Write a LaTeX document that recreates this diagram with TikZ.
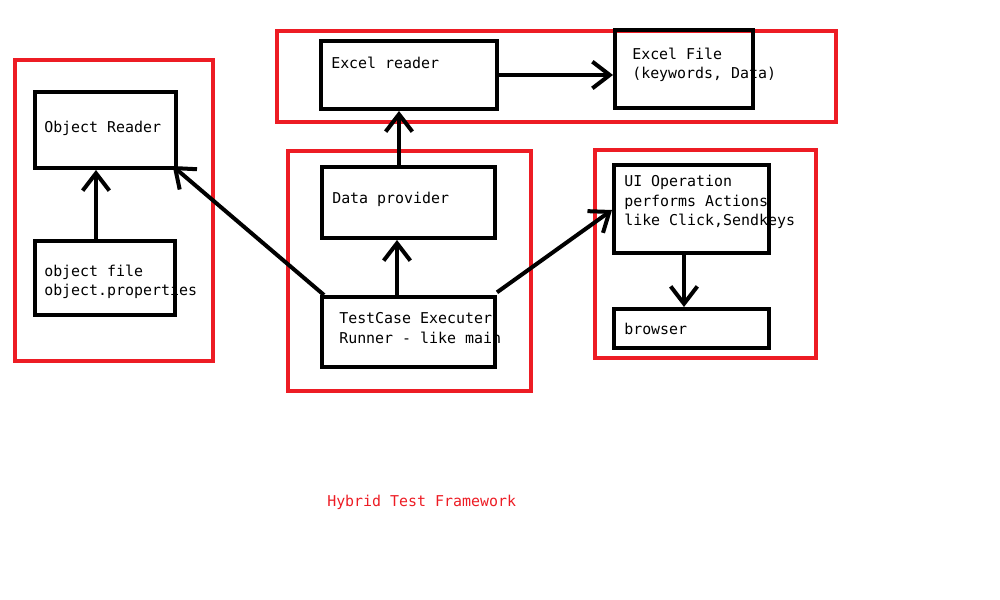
\documentclass[tikz,border=0pt]{standalone}
\usepackage{fontspec}
\setmonofont{DejaVu Sans Mono}
\usetikzlibrary{arrows.meta,fit}
\definecolor{paintred}{RGB}{237,28,36}

\begin{document}
\begin{tikzpicture}[x=0.75pt,y=0.75pt,yscale=-1,xscale=1,
  group/.style={draw=paintred,line width=3pt,inner sep=0pt},
  box/.style={draw=black,line width=3pt,inner sep=0pt},
  txt/.style={anchor=west,inner sep=0.75pt,align=left,font=\ttfamily\fontsize{11.2}{14.6}\selectfont},
  arr/.style={line width=3pt,-{Straight Barb[length=13pt,width=20pt,line width=3pt]}}]
\useasboundingbox (0,0) rectangle (1000,600);

%Shape: Rectangle [groups]
\node[group,fit={(15,60) (213,361)}] (objgroup) {};
\node[group,fit={(277,31) (836,122)}] (excelgroup) {};
\node[group,fit={(288,151) (531,391)}] (rungroup) {};
\node[group,fit={(595,150) (816,358)}] (uigroup) {};

%Shape: Rectangle [boxes]
\node[box,fit={(35,92) (176,168)}] (objreader) {};
\node[box,fit={(35,241) (175,315)}] (objfile) {};
\node[box,fit={(321,41) (497,109)}] (excelreader) {};
\node[box,fit={(615,30) (753,108)}] (excelfile) {};
\node[box,fit={(322,167) (495,238)}] (dataprov) {};
\node[box,fit={(322,297) (495,367)}] (runner) {};
\node[box,fit={(614,165) (769,253)}] (uiop) {};
\node[box,fit={(614,309) (769,348)}] (browser) {};

% Text Node
\node[txt] (objreadertxt) at (43,128) {Object Reader};
% Text Node
\node[txt] (objfiletxt) at (43,282) {object file\\object.properties};
% Text Node
\node[txt] (excelreadertxt) at (330,63) {Excel reader};
% Text Node
\node[txt] (excelfiletxt) at (631,65) {Excel File\\(keywords, Data)};
% Text Node
\node[txt] (dataprovtxt) at (331,199) {Data provider};
% Text Node
\node[txt] (runnertxt) at (338,328) {TestCase Executer\\Runner - like main};
% Text Node
\node[txt] (uioptxt) at (623,202) {UI Operation\\performs Actions\\like Click,Sendkeys};
% Text Node
\node[txt] (browsertxt) at (623,329) {browser};
% Text Node
\node[txt,text=paintred] (title) at (326,502) {Hybrid Test Framework};

%Straight Lines [arrows]
\coordinate (objx) at (96,0);
\coordinate (runx) at (397,0);
\coordinate (datax) at (399,0);
\coordinate (uix) at (684,0);
\coordinate (uitip) at (612,210);
\draw[arr] (objfile.north -| objx) -- (objreader.south -| objx);
\draw[arr] (excelreader.east) -- (excelfile.west |- excelreader.east);
\draw[arr] (runner.north -| runx) -- (dataprov.south -| runx);
\draw[arr] (dataprov.north -| datax) -- (excelreader.south -| datax);
\draw[arr] (uiop.south -| uix) -- (browser.north -| uix);
\draw[arr] ([xshift=3pt]runner.north west) -- ([xshift=-4pt,yshift=-3pt]objreader.south east);
\draw[arr] ([yshift=-2pt]runner.north east) -- (uitip);

\end{tikzpicture}
\end{document}
